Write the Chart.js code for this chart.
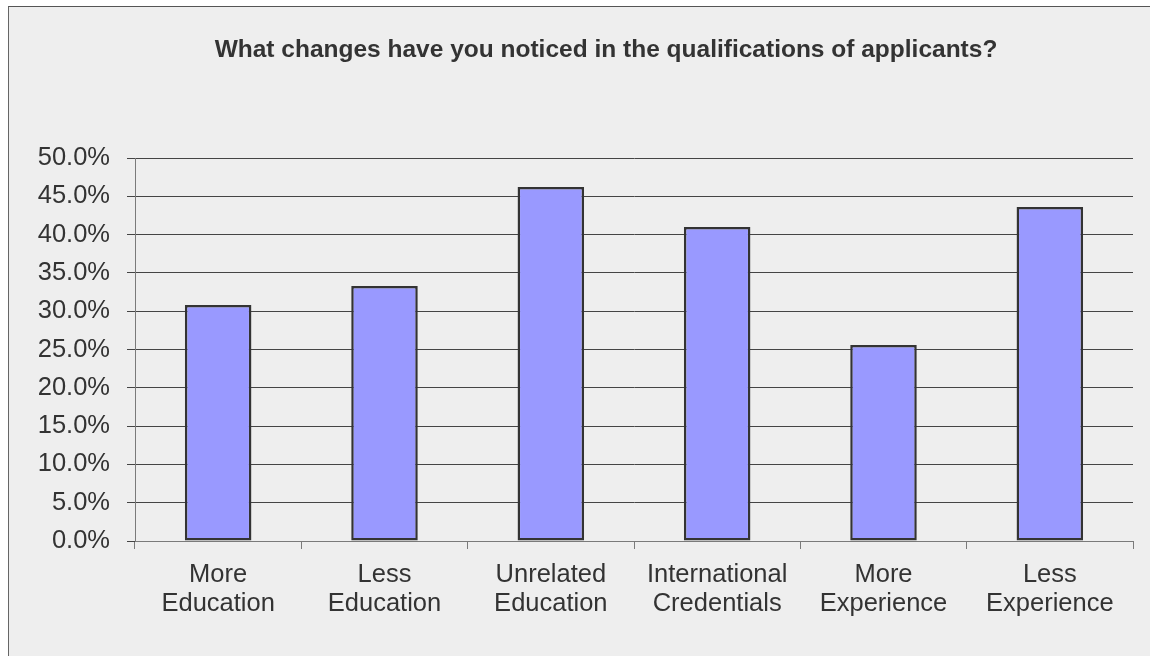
<!DOCTYPE html>
<html>
<head>
<meta charset="utf-8">
<script src="https://cdn.jsdelivr.net/npm/chart.js@4/dist/chart.umd.min.js"></script>
<style>
  html,body{margin:0;padding:0;background:#fff;overflow:hidden;}
  #frame{position:absolute;left:8px;top:6px;width:1200px;height:700px;background:#eeeeee;border-left:1px solid #666;border-top:1px solid #555;}
  #chart{display:block;}
</style>
</head>
<body>
<div id="frame"><canvas id="chart" width="1194" height="649"></canvas></div>
<script>
// survey answers, share of respondents (%)
const categories = [['More','Education'],['Less','Education'],['Unrelated','Education'],['International','Credentials'],['More','Experience'],['Less','Experience']];
const shares = [30.8, 33.3, 46.2, 41.0, 25.6, 43.6];
const yMin = 0, yMax = 50, yStep = 5;
const chartTitle = 'What changes have you noticed in the qualifications of applicants?';

(function(){
  'use strict';
  const FONT = '"Liberation Sans", Arial, sans-serif';
  const INK = '#333333';
  const AXIS = '#7a7a7a';

  new Chart(document.getElementById('chart'), {
    type:'bar',
    data:{
      labels:categories,
      datasets:[{
        data:shares,
        backgroundColor:'#9999ff',
        borderColor:'#333333',
        borderWidth:2.5,
        borderSkipped:false,
        categoryPercentage:1,
        barPercentage:0.4
      }]
    },
    options:{
      responsive:false,
      animation:false,
      layout:{padding:0},
      plugins:{
        legend:{display:false},
        tooltip:{enabled:false},
        title:{
          display:true,
          text:chartTitle,
          color:INK,
          font:{family:FONT,size:24.5,weight:'bold',lineHeight:1.2},
          padding:{top:29,bottom:92.6}
        }
      },
      scales:{
        x:{
          offset:true,
          border:{display:true,color:AXIS,width:1},
          grid:{drawOnChartArea:false,drawTicks:true,tickLength:8,color:AXIS,offset:true},
          ticks:{color:INK,font:{family:FONT,size:25.5,lineHeight:1.15},padding:11,maxRotation:0,autoSkip:false},
          afterFit:s=>{ s.height = 115; }
        },
        y:{
          min:yMin, max:yMax,
          border:{display:true,color:AXIS,width:1},
          grid:{color:'#444444',lineWidth:1,tickLength:8,drawTicks:true},
          ticks:{stepSize:yStep,color:INK,font:{family:FONT,size:25.5},padding:17,callback:v=>Number(v).toFixed(1)+'%'},
          afterFit:s=>{ s.width = 126; }
        },
        // empty right gutter so the title stays centred on the whole canvas
        gutter:{
          type:'linear',position:'right',min:yMin,max:yMax,
          border:{display:false},grid:{display:false},ticks:{display:false},
          afterFit:s=>{ s.width = 70; }
        }
      }
    }
  });
})();
</script>
</body>
</html>
